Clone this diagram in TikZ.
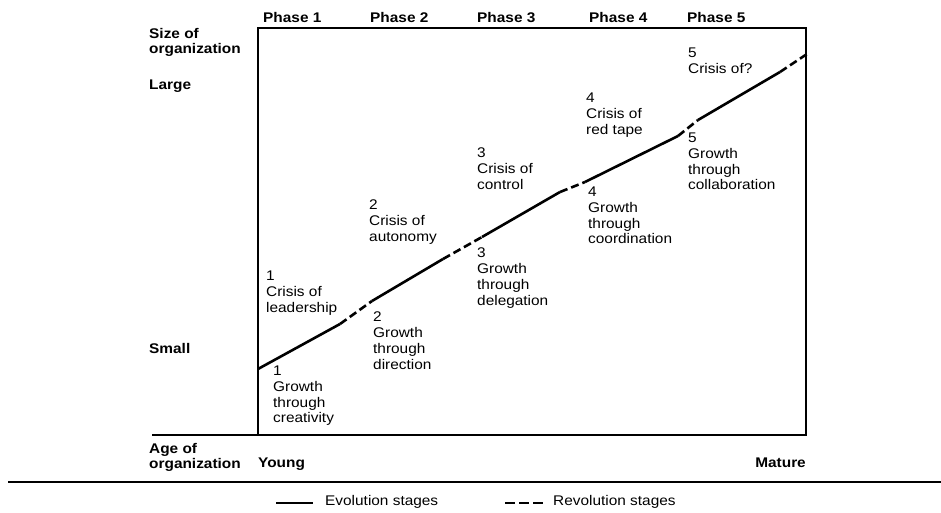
\documentclass[tikz,border=0pt]{standalone}
\usepackage{fontspec}
\setmainfont[FakeStretch=1.1]{Liberation Sans}
\begin{document}
\begin{tikzpicture}[x=1pt,y=-1pt,
	every node/.style={inner sep=0pt,font=\fontsize{14}{15.7}\selectfont},
	txt/.style={anchor=north west,align=left},
	hd/.style={anchor=north west,align=left,font=\fontsize{14}{15}\selectfont\bfseries},
	evo/.style={line width=2.6pt},
	revo/.style={line width=2.6pt,dash pattern=on 8pt off 4pt}]
	\useasboundingbox (0,0) rectangle (941,513);
	% frame and rules
	\draw[line width=1.3pt] (258,28) rectangle (806,435);
	\draw[line width=1.3pt] (152,435) -- (258,435);
	\draw[line width=1.2pt] (8,482) -- (941,482);
	% phases
	\node[hd] (ph1) at (263,12) {Phase 1};
	\node[hd] (ph2) at (370,12) {Phase 2};
	\node[hd] (ph3) at (477,12) {Phase 3};
	\node[hd] (ph4) at (589,12) {Phase 4};
	\node[hd] (ph5) at (687,12) {Phase 5};
	% axes
	\node[hd] (size) at (149,28) {Size of\\organization};
	\node[hd] (large) at (149,80) {Large};
	\node[hd] (small) at (149,343) {Small};
	\node[hd] (age) at (149,443) {Age of\\organization};
	\node[hd] (young) at (258,458) {Young};
	\node[hd,anchor=north east] (mature) at (806,458) {Mature};
	% curve
	\coordinate (p0) at (258,369);
	\coordinate (p1) at (340,324);
	\coordinate (p2) at (372,301);
	\coordinate (p3) at (443,259);
	\coordinate (p4) at (482,237);
	\coordinate (p5) at (560,192);
	\coordinate (p6) at (585,182);
	\coordinate (p7) at (678,136);
	\coordinate (p8) at (698,120);
	\coordinate (p9) at (780,72);
	\coordinate (p10) at (807,54);
	\draw[evo] (p0) -- (p1);
	\draw[revo] (p1) -- (p2);
	\draw[evo] (p2) -- (p3);
	\draw[revo] (p3) -- (p4);
	\draw[evo] (p4) -- (p5);
	\draw[revo] (p5) -- (p6);
	\draw[evo] (p6) -- (p7);
	\draw[revo] (p7) -- (p8);
	\draw[evo] (p8) -- (p9);
	\draw[revo] (p9) -- (p10);
	% stages
	\node[txt] (cr1) at (266,271) {1\\Crisis of\\leadership};
	\node[txt] (gr1) at (273,366) {1\\Growth\\through\\creativity};
	\node[txt] (cr2) at (369,200) {2\\Crisis of\\autonomy};
	\node[txt] (gr2) at (373,312) {2\\Growth\\through\\direction};
	\node[txt] (cr3) at (477,148) {3\\Crisis of\\control};
	\node[txt] (gr3) at (477,248) {3\\Growth\\through\\delegation};
	\node[txt] (cr4) at (586,93) {4\\Crisis of\\red tape};
	\node[txt] (gr4) at (588,187) {4\\Growth\\through\\coordination};
	\node[txt] (cr5) at (688,48) {5\\Crisis of?};
	\node[txt] (gr5) at (688,133) {5\\Growth\\through\\collaboration};
	% legend
	\coordinate (e0) at (276,503);
	\coordinate (e1) at (313,503);
	\coordinate (r0) at (505,503);
	\coordinate (r1) at (543,503);
	\draw[line width=2pt] (e0) -- (e1);
	\node[anchor=west] (evol) at (325,502) {Evolution stages};
	\draw[line width=2pt,dash pattern=on 10pt off 4pt] (r0) -- (r1);
	\node[anchor=west] (revol) at (553,502) {Revolution stages};
\end{tikzpicture}
\end{document}
